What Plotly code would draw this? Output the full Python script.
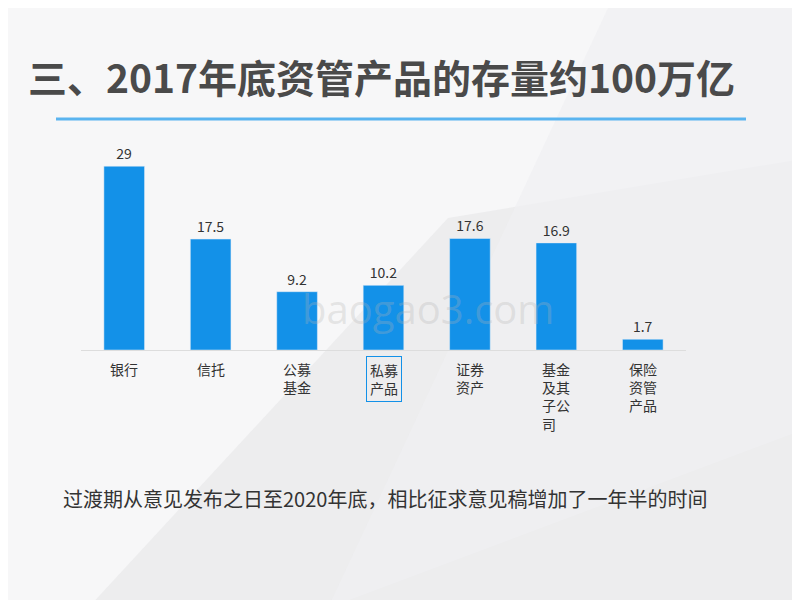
import plotly.graph_objects as go

categories = ["银行", "信托", "公募基金", "私募产品", "证券资产", "基金及其子公司", "保险资管产品"]
values = [29, 17.5, 9.2, 10.2, 17.6, 16.9, 1.7]
tick_labels = ["银行", "信托", "公募<br>基金", "私募<br>产品", "证券<br>资产", "基金<br>及其<br>子公<br>司", "保险<br>资管<br>产品"]

font = "Noto Sans CJK SC"
fig = go.Figure(go.Bar(
    x=categories, y=values, marker_color="#1391e8", width=0.47,
    text=[f"{v:g}" for v in values], textposition="outside",
    textfont=dict(size=14, color="#333", family=font), cliponaxis=False))

shapes = [
    dict(type="path", xref="paper", yref="paper", path="M 0.1,0 L 0.55,0.65 L 1,0.75 L 1,0 Z",
         fillcolor="rgba(230,230,232,0.6)", line_width=0, layer="below"),
    dict(type="path", xref="paper", yref="paper", path="M 0.4,0 L 0.75,1 L 1,1 L 1,0.3 Z",
         fillcolor="rgba(240,240,242,0.7)", line_width=0, layer="below"),
    dict(type="line", xref="paper", yref="paper", x0=48/800, x1=738/800, y0=1-111/600, y1=1-111/600,
         line=dict(color="#5ab4ef", width=3)),
]
annotations = [
    dict(text="三、2017年底资管产品的存量约100万亿", x=18/800, y=1-68/600, xref="paper", yref="paper",
         xanchor="left", yanchor="middle", showarrow=False,
         font=dict(size=39, color="#4a4a4a", family=font, weight="bold")),
    dict(text="过渡期从意见发布之日至2020年底，相比征求意见稿增加了一年半的时间", x=53/800, y=1-490/600,
         xref="paper", yref="paper", xanchor="left", yanchor="middle", showarrow=False,
         font=dict(size=20, color="#333", family=font)),
    dict(text="baogao3.com", x=420/800, y=1-300/600, xref="paper", yref="paper", showarrow=False,
         font=dict(size=40, color="rgba(180,180,180,0.3)", family="Open Sans")),
]
for c, t in zip(categories, tick_labels):
    annotations.append(dict(text=t, x=c, y=0, xref="x", yref="y", yanchor="top", yshift=-6,
                            showarrow=False, align="left",
                            font=dict(size=14, color="#333", family=font),
                            bordercolor="#1391e8" if c == "私募产品" else None,
                            borderwidth=1 if c == "私募产品" else 0, borderpad=3))

fig.update_layout(
    width=800, height=600, margin=dict(l=0, r=0, t=0, b=0),
    paper_bgcolor="#f7f7f8", plot_bgcolor="rgba(0,0,0,0)", showlegend=False,
    xaxis=dict(domain=[73/800, 678/800], showticklabels=False, showgrid=False, zeroline=False,
               showline=True, linecolor="#ddd"),
    yaxis=dict(domain=[1-342/600, 1-143/600], range=[0, 31.4], visible=False),
    shapes=shapes, annotations=annotations,
)
fig.write_html("out.html")
